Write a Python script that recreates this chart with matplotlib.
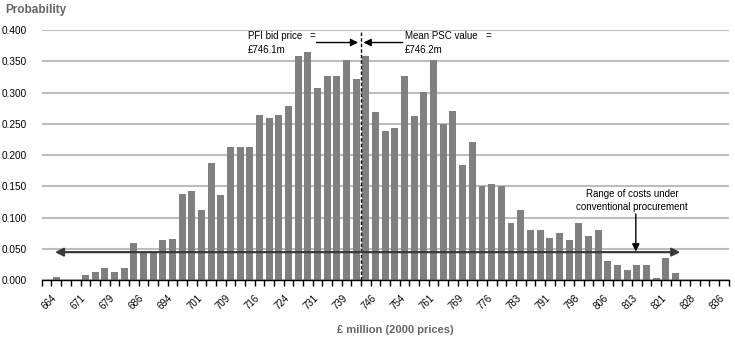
import matplotlib
matplotlib.use("Agg")
import matplotlib.pyplot as plt
import matplotlib.transforms as mtransforms
import numpy as np

plt.rcParams['font.family'] = ['Liberation Sans', 'DejaVu Sans']

# Probability of each cost band (71 bands, £ million, 2000 prices)
probability = [
    0.000, 0.006, 0.000, 0.000, 0.009, 0.013, 0.019, 0.014, 0.019, 0.059,
    0.043, 0.043, 0.065, 0.066, 0.138, 0.143, 0.113, 0.188, 0.137, 0.213,
    0.213, 0.213, 0.264, 0.259, 0.264, 0.278, 0.358, 0.365, 0.308, 0.327,
    0.327, 0.352, 0.321, 0.358, 0.269, 0.239, 0.244, 0.326, 0.262, 0.301,
    0.352, 0.250, 0.270, 0.184, 0.221, 0.151, 0.154, 0.151, 0.092, 0.113,
    0.081, 0.081, 0.068, 0.076, 0.065, 0.092, 0.070, 0.081, 0.031, 0.025,
    0.017, 0.025, 0.025, 0.004, 0.036, 0.011, 0.000, 0.000, 0.000, 0.000,
    0.000,
]

# Labels shown on every third band
tick_labels = ['664', '671', '679', '686', '694', '701', '709', '716', '724',
               '731', '739', '746', '754', '761', '769', '776', '783', '791',
               '798', '806', '813', '821', '828', '836']
label_step = 3

y_ticks = [0.000, 0.050, 0.100, 0.150, 0.200, 0.250, 0.300, 0.350, 0.400]

pfi_bid = '£746.1m'
psc_mean = '£746.2m'

fig = plt.figure(figsize=(7.35, 3.43), dpi=100)
ax = fig.add_axes([0.0569, 0.1828, 0.9345, 0.7297])

x = np.arange(len(probability))
ax.bar(x, probability, width=0.72, color='#808080', zorder=2)

ax.set_xlim(-0.5, len(probability) - 0.5)
ax.set_ylim(0, 0.4)

# Gridlines
ax.set_yticks(y_ticks)
ax.set_yticklabels([f'{v:.3f}' for v in y_ticks], fontsize=7.2)
ax.yaxis.grid(True, color='#bdbdbd', lw=1.5, zorder=0)
ax.set_axisbelow(True)
ax.tick_params(axis='y', length=0, pad=10.5)

for s in ['left', 'right', 'top']:
    ax.spines[s].set_visible(False)
ax.spines['bottom'].set_color('black')
ax.spines['bottom'].set_linewidth(1.0)
ax.spines['bottom'].set_zorder(3)

# Category tick marks between bands, labels every third band
ax.set_xticks(np.arange(-0.5, len(probability)), minor=True)
ax.tick_params(axis='x', which='minor', length=4, width=1, direction='out', color='black')
ax.set_xticks(x[::label_step][:len(tick_labels)])
ax.set_xticklabels(tick_labels, fontsize=7, rotation=45, ha='right',
                   va='top', rotation_mode='anchor')
ax.tick_params(axis='x', which='major', length=0, pad=9)
offset = mtransforms.ScaledTranslation(5 / 100, 0, fig.dpi_scale_trans)
for lbl in ax.get_xticklabels():
    lbl.set_transform(lbl.get_transform() + offset)

# Axis titles
fig.text(5 / 735, 1 - 10 / 343, 'Probability', fontsize=8.5, fontweight='bold',
         color='#666666', ha='left', va='center')
fig.text(395 / 735, 1 - 330 / 343, '£ million (2000 prices)', fontsize=8,
         fontweight='bold', color='#666666', ha='center', va='center')

# Dashed marker between bid price and mean PSC
ax.plot([32.5, 32.5], [0, 0.4], color='black', lw=1, ls=(0, (2.5, 1.5)),
        zorder=4, clip_on=False)

txt_kw = dict(fontsize=7, color='black', va='center', ha='left')
ax.text(20.8, 0.390, 'PFI bid price', **txt_kw)
ax.text(27.2, 0.390, '=', **txt_kw)
ax.text(20.8, 0.368, pfi_bid, **txt_kw)
ax.text(37.0, 0.390, 'Mean PSC value', **txt_kw)
ax.text(45.4, 0.390, '=', **txt_kw)
ax.text(37.0, 0.368, psc_mean, **txt_kw)

arrow_kw = dict(arrowstyle='-|>', mutation_scale=11, color='black', lw=1,
                shrinkA=0, shrinkB=0)
ax.annotate('', xy=(32.2, 0.380), xytext=(27.9, 0.380), arrowprops=arrow_kw,
            annotation_clip=False, zorder=5)
ax.annotate('', xy=(32.75, 0.380), xytext=(36.8, 0.380), arrowprops=arrow_kw,
            annotation_clip=False, zorder=5)

# Range of costs under conventional procurement
ax.annotate('', xy=(0.85, 0.045), xytext=(65.5, 0.045),
            arrowprops=dict(arrowstyle='<|-|>', mutation_scale=12, color='#3a3a3a',
                            lw=1.6, shrinkA=0, shrinkB=0), zorder=5)
ax.text(60.5, 0.127, 'Range of costs under\nconventional procurement',
        fontsize=7, ha='center', va='center', linespacing=1.35)
ax.annotate('', xy=(60.9, 0.046), xytext=(60.9, 0.106),
            arrowprops=dict(arrowstyle='-|>', mutation_scale=11, color='black',
                            lw=1, shrinkA=0, shrinkB=0), zorder=6)

fig.savefig('out.png', dpi=100)
